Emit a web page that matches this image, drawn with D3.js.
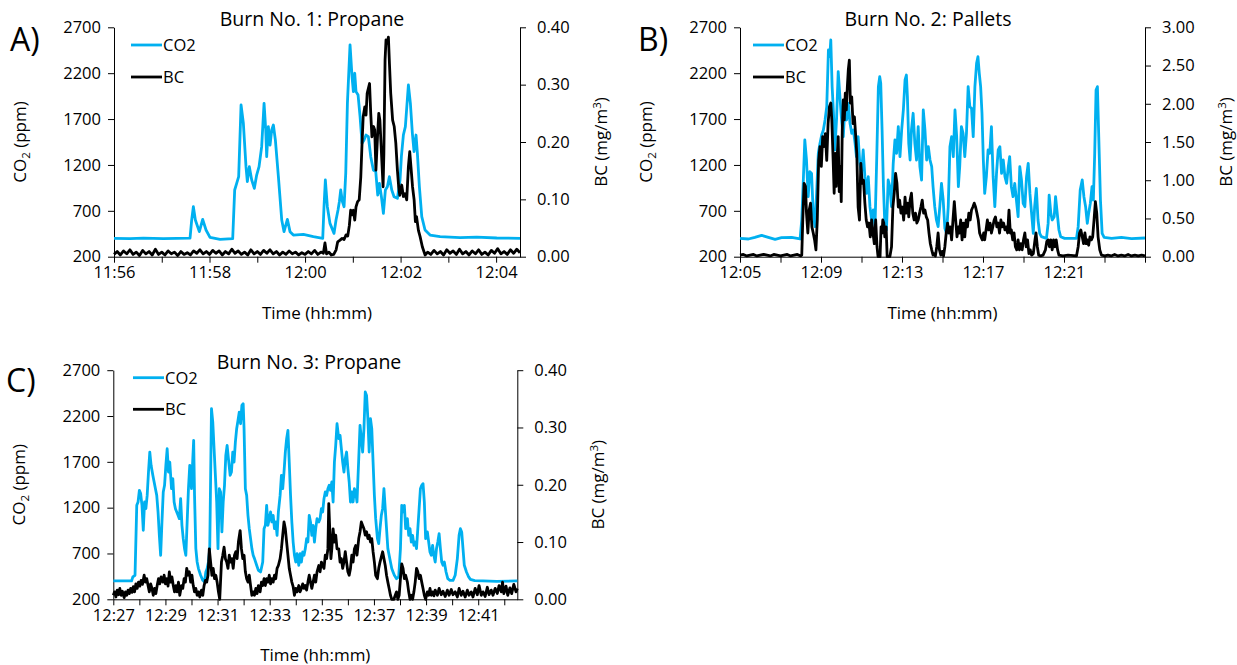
<!DOCTYPE html>
<html>
<head>
<meta charset="utf-8">
<script src="https://cdn.jsdelivr.net/npm/d3@7"></script>
<style>
  body { margin: 0; background: #fff; }
  svg text { font-family: 'Open Sans', sans-serif; fill: #000; }
</style>
</head>
<body>
<script>
// CO2 (ppm) and BC (mg/m3) readings, [seconds after panel start, value]
const co2A = [[0,400],[20.1,398],[36.9,402],[62,398],[78.7,400],[95.5,402],[97.6,600],[99.7,745],[102.2,600],[107.2,473],[111.4,607],[115.6,491],[120.6,411],[133.2,389],[149.1,396],[151.6,927],[154.1,1000],[156.6,1072],[159.6,1853],[162.5,1654],[165.8,1181],[167.5,1018],[170,1181],[173,1036],[176.3,945],[179.2,1090],[182.2,1181],[185.5,1399],[188.5,1872],[190.6,1581],[191.8,1290],[193.9,1617],[196,1417],[198.1,1581],[200.2,1635],[202.7,1472],[206.5,1072],[210.7,600],[213.6,473],[217.8,607],[221.1,473],[225.3,436],[237.9,443],[250.4,418],[262.2,400],[263.8,745],[265.5,1036],[268,745],[271.3,563],[276.4,454],[278.9,600],[281.4,709],[283.1,800],[284.8,927],[286.9,800],[289,745],[291.1,1108],[293.2,1872],[296.5,2508],[299,2162],[300.7,1999],[302.4,2199],[304,1999],[306.6,1962],[309.1,1726],[311.6,1436],[314.1,1472],[316.6,1526],[319.5,1508],[322.5,1290],[325.8,1145],[328.8,1127],[331.3,872],[333.4,1000],[335.9,854],[338.4,672],[340.9,927],[343.4,963],[345.9,1072],[348.9,927],[351.8,854],[356,836],[359.3,1036],[361,1290],[363.5,1526],[366,1617],[369.8,2071],[372.3,1872],[374.8,1545],[376.9,1345],[379.4,1526],[381.1,1327],[383.6,963],[386.6,636],[390.7,491],[397,436],[409.6,418],[434.7,407],[455.7,414],[480.8,404],[510,400]];
const bcA = [[0,0.004],[4,0.009],[8,0.003],[12,0.010],[16,0.005],[20,0.012],[24,0.004],[28,0.008],[32,0.002],[36,0.011],[40,0.005],[44,0.009],[48,0.003],[52,0.013],[56,0.004],[60,0.008],[64,0.003],[68,0.010],[72,0.005],[76,0.008],[80,0.002],[84,0.009],[88,0.004],[92,0.007],[96,0.003],[100,0.010],[104,0.006],[108,0.012],[112,0.005],[116,0.009],[120,0.004],[124,0.011],[128,0.006],[132,0.010],[136,0.003],[140,0.009],[144,0.005],[148,0.013],[152,0.006],[156,0.010],[160,0.004],[164,0.008],[168,0.003],[172,0.012],[176,0.005],[180,0.009],[184,0.004],[188,0.011],[192,0.006],[196,0.012],[200,0.005],[204,0.009],[208,0.003],[212,0.008],[216,0.004],[220,0.010],[224,0.005],[228,0.008],[232,0.003],[236,0.007],[240,0.004],[244,0.009],[248,0.005],[252,0.011],[256,0.004],[260,0.008],[263,0.006],[265,0.024],[267,0.005],[270,0.008],[273,0.003],[276,0.004],[279,0.012],[281,0.026],[284,0.029],[286.5,0.032],[289,0.030],[291.5,0.038],[293.6,0.036],[295.7,0.055],[297.3,0.081],[299,0.073],[300.7,0.081],[302.4,0.064],[304,0.087],[306,0.096],[308,0.099],[310,0.139],[311.6,0.198],[313,0.244],[315,0.261],[316.6,0.247],[318,0.285],[321,0.302],[322.5,0.250],[324,0.209],[326,0.227],[327.5,0.221],[329,0.151],[331,0.209],[332.6,0.250],[334,0.238],[336,0.180],[338,0.122],[339,0.180],[340.5,0.343],[341.7,0.378],[343.4,0.372],[344.7,0.383],[346,0.337],[347.6,0.285],[350,0.238],[352,0.227],[354,0.198],[356,0.151],[357.6,0.122],[359,0.107],[361.4,0.125],[363.5,0.105],[365.6,0.110],[367.7,0.099],[369.8,0.157],[371.5,0.183],[373,0.157],[375,0.122],[377,0.099],[378.6,0.061],[380,0.070],[382.4,0.046],[384.5,0.035],[387.4,0.017],[390.8,0.003],[394,0.008],[398,0.004],[402,0.011],[406,0.005],[410,0.009],[414,0.003],[418,0.012],[422,0.006],[426,0.010],[430,0.004],[434,0.013],[438,0.005],[442,0.009],[446,0.003],[450,0.010],[454,0.005],[458,0.012],[462,0.004],[466,0.008],[470,0.003],[474,0.011],[478,0.006],[482,0.014],[486,0.005],[490,0.009],[494,0.004],[498,0.012],[502,0.006],[506,0.013],[510,0.007]];

const co2B = [[0,400],[25,393],[44,411],[64,433],[84,411],[104,389],[123,407],[153,411],[178,393],[183,600],[188,1072],[192,1472],[197,1254],[202,854],[207,1127],[212,1108],[217,672],[222,527],[227,890],[232,1327],[237,1436],[242,1526],[247,1581],[252,1690],[257,1835],[262,2453],[266,2380],[269,2562],[273,2053],[277,1763],[281,1363],[286,1690],[291,2217],[296,1944],[301,1690],[306,1508],[311,1835],[316,1690],[321,1872],[326,1654],[331,1545],[336,1581],[341,1436],[345,1290],[350,1508],[355,1218],[360,1108],[365,1363],[370,1072],[375,890],[380,1072],[385,745],[390,600],[395,709],[400,527],[405,1254],[410,2053],[414,2162],[417,2090],[421,1581],[425,963],[429,563],[434,491],[439,1036],[444,963],[449,745],[454,1218],[459,1472],[464,1327],[469,1617],[474,1290],[479,1581],[484,1799],[489,2126],[493,2180],[496,1944],[500,1436],[504,1254],[508,1581],[513,1763],[518,1436],[523,1254],[528,1617],[533,1181],[538,1036],[543,1799],[548,1581],[553,1254],[558,1399],[563,1254],[568,1181],[572,963],[577,745],[582,600],[587,527],[592,745],[597,999],[602,818],[607,509],[612,454],[617,745],[622,1399],[627,1508],[632,1290],[637,1799],[642,1508],[647,963],[651,1181],[656,1617],[661,1545],[666,1290],[671,1545],[676,2053],[681,1835],[686,1817],[691,1508],[696,2053],[701,2308],[705,2380],[709,2199],[713,2053],[717,1763],[721,1254],[725,890],[730,1072],[735,1363],[740,1327],[745,1617],[750,1072],[755,745],[760,1108],[765,1363],[770,1399],[775,1108],[780,1254],[785,1072],[790,999],[795,1181],[799,1290],[804,963],[809,854],[814,999],[819,818],[824,636],[829,1181],[834,1036],[839,781],[844,745],[849,1072],[854,1218],[859,890],[864,672],[869,454],[873,745],[878,945],[883,600],[888,454],[893,418],[908,400],[913,563],[916,872],[921,672],[925,600],[931,636],[935,854],[940,672],[945,491],[950,418],[962,400],[997,400],[1002,527],[1008,927],[1014,1036],[1019,854],[1024,745],[1029,563],[1033,672],[1038,781],[1043,963],[1047,818],[1051,1327],[1055,2017],[1059,2053],[1063,1508],[1068,818],[1073,454],[1079,411],[1101,400],[1130,411],[1160,396],[1200,404]];
const bcB = [[0,0.02],[10,0.03],[20,0.01],[30,0.02],[40,0.03],[50,0.01],[60,0.02],[70,0.03],[80,0.02],[90,0.01],[100,0.03],[110,0.02],[120,0.01],[130,0.02],[140,0.03],[150,0.01],[160,0.02],[170,0.03],[180,0.01],[183,0.02],[186,0.48],[190,0.96],[194,0.92],[197,0.57],[201,0.31],[205,0.61],[209,0.70],[213,0.39],[217,0.31],[221,0.22],[225,0.09],[229,0.48],[233,1.26],[237,1.44],[241,1.18],[245,1.57],[249,1.44],[253,1.61],[257,1.26],[261,1.74],[265,1.96],[269,2.01],[272,1.79],[276,1.26],[279,0.83],[282,1.35],[285,0.92],[288,1.31],[291,1.57],[294,0.85],[297,1.18],[300,0.72],[303,1.66],[306,2.05],[309,1.79],[312,2.14],[315,1.92],[318,2.22],[321,2.45],[324,2.57],[327,2.01],[331,2.09],[335,1.74],[339,1.83],[343,1.57],[346,1.35],[350,0.65],[354,0.48],[358,1.22],[362,0.96],[366,1.00],[370,0.70],[374,0.48],[378,0.39],[382,0.44],[386,0.26],[390,0.48],[394,0.31],[398,0.17],[402,0.48],[406,0.13],[409,0],[415,0],[418,0.39],[421,0.31],[423,0.48],[426,0.44],[429,0.26],[433,0.39],[436,0],[444,0],[449,0.13],[453,0.65],[457,0.83],[461,1.09],[465,0.96],[469,0.65],[473,0.74],[477,0.57],[481,0.65],[485,0.48],[489,0.78],[493,0.57],[497,0.70],[500,0.52],[504,0.74],[508,0.83],[512,0.57],[516,0.48],[520,0.57],[524,0.44],[528,0.48],[532,0.57],[536,0.65],[540,0.74],[544,0.57],[548,0.61],[552,0.52],[556,0.48],[560,0.31],[564,0.17],[568,0.09],[572,0.02],[575,0.04],[579,0.01],[583,0.13],[587,0.31],[591,0.09],[595,0.02],[599,0.07],[603,0.01],[607,0.13],[611,0.31],[615,0.44],[619,0.31],[623,0.39],[627,0.22],[631,0.48],[635,0.72],[639,0.48],[643,0.26],[647,0.39],[650,0.31],[654,0.48],[658,0.22],[662,0.44],[666,0.26],[670,0.48],[674,0.39],[678,0.57],[682,0.48],[686,0.61],[690,0.65],[694,0.70],[698,0.65],[702,0.57],[706,0.48],[710,0.31],[714,0.26],[718,0.22],[722,0.31],[725,0.22],[729,0.35],[733,0.48],[737,0.35],[741,0.44],[745,0.31],[749,0.39],[753,0.48],[757,0.52],[761,0.39],[765,0.44],[769,0.31],[773,0.48],[777,0.39],[781,0.44],[785,0.35],[789,0.39],[793,0.31],[797,0.61],[801,0.31],[804,0.35],[808,0.22],[812,0.31],[816,0.13],[820,0.09],[824,0.22],[828,0.09],[832,0.17],[836,0.09],[840,0.22],[844,0.31],[848,0.13],[852,0.22],[856,0.04],[860,0.09],[864,0.02],[869,0.04],[874,0.22],[877,0.31],[881,0.13],[885,0.02],[891,0.01],[898,0.02],[905,0.09],[909,0.20],[913,0.22],[917,0.13],[921,0.22],[925,0.09],[929,0.22],[933,0.13],[937,0.22],[941,0.09],[945,0.02],[957,0.01],[972,0.02],[997,0.01],[1002,0.13],[1006,0.31],[1010,0.35],[1014,0.26],[1018,0.17],[1022,0.31],[1026,0.17],[1029,0.22],[1033,0.15],[1037,0.26],[1041,0.22],[1045,0.26],[1049,0.48],[1053,0.72],[1057,0.57],[1061,0.26],[1066,0.09],[1071,0.02],[1081,0.01],[1090,0.02],[1100,0.01],[1110,0.03],[1120,0.01],[1130,0.02],[1140,0.01],[1150,0.03],[1160,0.01],[1170,0.02],[1180,0.01],[1190,0.02],[1200,0.01]];

const co2C = [[0,400],[42,400],[45,444],[50,462],[54,1225],[57,1262],[60,1389],[63,1353],[66,1225],[69,953],[72,1262],[75,1189],[78,1334],[81,1589],[84,1807],[87,1662],[91,1553],[94,1480],[97,1407],[100,1334],[103,1153],[106,898],[109,680],[112,1044],[115,1371],[118,1444],[121,1662],[124,1843],[127,1589],[130,1698],[134,1407],[137,1516],[140,1262],[143,1189],[146,1153],[149,1116],[152,1080],[155,1298],[158,1007],[161,862],[164,753],[167,680],[170,1044],[173,1407],[176,1662],[180,1407],[183,1734],[185,1934],[187,1334],[190,753],[193,607],[196,535],[201,462],[206,407],[210,389],[213,498],[216,535],[219,607],[222,753],[226,2280],[229,2134],[232,1843],[235,1553],[238,1262],[241,753],[244,1407],[247,1371],[250,935],[253,1262],[256,1444],[259,1771],[262,1880],[265,1734],[269,1553],[272,1589],[275,1807],[278,1698],[281,1916],[284,2062],[287,2152],[290,2243],[293,2116],[296,2316],[299,2334],[301,2062],[304,1407],[307,1334],[310,1116],[313,971],[316,862],[319,753],[322,680],[325,644],[330,571],[334,516],[339,498],[344,607],[347,971],[350,1007],[353,1225],[356,1007],[359,1080],[362,1153],[365,1044],[368,1116],[371,971],[374,1044],[377,898],[380,1153],[384,1334],[387,1553],[390,1407],[393,1589],[396,1807],[399,1953],[402,2043],[405,1698],[408,1334],[411,1044],[414,825],[417,680],[420,607],[423,698],[427,571],[430,698],[433,607],[436,716],[439,680],[442,753],[445,862],[448,825],[451,1116],[454,1044],[457,898],[460,1007],[463,825],[466,971],[469,1080],[473,1044],[476,1080],[479,1189],[482,1153],[485,1298],[488,1371],[491,1334],[494,1407],[497,1444],[500,1389],[503,1480],[506,1262],[509,1698],[512,1880],[515,2116],[519,1953],[522,1989],[525,1843],[528,1698],[531,1589],[534,1734],[537,1807],[540,1625],[543,1480],[546,1262],[549,1371],[552,1262],[555,1407],[558,1371],[561,1262],[565,1734],[568,2098],[571,1953],[574,1807],[577,2062],[580,2462],[583,2425],[586,2171],[589,1807],[592,2171],[595,2062],[598,1698],[601,1334],[604,1080],[608,862],[611,807],[614,971],[617,1116],[620,1189],[623,1407],[626,1189],[629,971],[632,753],[635,680],[638,607],[641,535],[644,498],[647,462],[652,425],[657,444],[661,753],[664,1225],[667,1153],[670,1225],[673,971],[677,1080],[680,898],[683,971],[686,825],[689,898],[692,789],[695,825],[698,753],[701,971],[704,1189],[707,1407],[710,1444],[713,1462],[716,1262],[719,862],[723,935],[726,825],[729,716],[732,680],[735,789],[738,680],[741,607],[744,753],[747,825],[750,916],[753,753],[756,607],[759,571],[762,607],[766,498],[770,425],[775,407],[782,407],[787,462],[792,644],[796,898],[799,971],[802,935],[805,753],[808,571],[813,498],[818,444],[822,418],[832,404],[851,400],[882,396],[930,400]];
const bcC = [[0,0.007],[3,0.013],[6,0.004],[9,0.016],[12,0.008],[15,0.019],[18,0.007],[21,0.014],[25,0.003],[28,0.013],[31,0.007],[34,0.016],[37,0.010],[40,0.019],[43,0.012],[46,0.022],[49,0.013],[52,0.027],[55,0.019],[58,0.030],[61,0.023],[64,0.033],[67,0.026],[71,0.042],[74,0.030],[77,0.036],[80,0.024],[83,0.013],[86,0.027],[89,0.019],[92,0.007],[95,0.019],[98,0.010],[101,0.024],[104,0.036],[107,0.027],[110,0.039],[114,0.030],[117,0.042],[120,0.027],[123,0.036],[126,0.023],[129,0.048],[132,0.030],[135,0.039],[138,0.024],[141,0.013],[144,0.024],[147,0.013],[150,0.030],[153,0.007],[157,0.024],[160,0.019],[163,0.036],[166,0.030],[169,0.054],[172,0.042],[175,0.048],[178,0.030],[181,0.042],[184,0.024],[187,0.013],[190,0.019],[193,0.007],[196,0.013],[199,0.004],[203,0.016],[206,0.007],[209,0.024],[212,0.033],[215,0.030],[218,0.042],[221,0.088],[224,0.065],[227,0.042],[230,0.054],[233,0.036],[236,0.042],[239,0.030],[242,0.013],[245,0],[249,0.065],[252,0.077],[255,0.091],[258,0.071],[261,0.065],[264,0.054],[267,0.077],[270,0.065],[273,0.071],[276,0.054],[279,0.077],[282,0.083],[285,0.071],[288,0.100],[292,0.120],[295,0.088],[298,0.071],[301,0.077],[304,0.048],[307,0.036],[310,0.030],[313,0.042],[316,0.024],[319,0.007],[322,0.013],[325,0.007],[328,0.019],[331,0.010],[334,0.024],[338,0.013],[341,0.030],[344,0.024],[347,0.036],[350,0.024],[353,0.036],[356,0.030],[359,0.042],[362,0.027],[365,0.036],[368,0.030],[371,0.042],[374,0.036],[377,0.054],[380,0.059],[384,0.071],[387,0.088],[390,0.112],[393,0.135],[396,0.123],[399,0.100],[402,0.077],[405,0.054],[408,0.042],[411,0.030],[414,0.022],[417,0.007],[420,0.019],[423,0.013],[427,0.024],[430,0.013],[433,0.019],[436,0.027],[439,0.019],[442,0.024],[445,0.016],[448,0.030],[451,0.042],[454,0.030],[457,0.019],[460,0.030],[463,0.042],[466,0.030],[469,0.048],[473,0.059],[476,0.048],[479,0.065],[482,0.059],[485,0.054],[488,0.077],[491,0.071],[494,0.088],[496,0.167],[499,0.106],[501,0.071],[503,0.088],[506,0.123],[509,0.100],[512,0.112],[515,0.088],[519,0.088],[522,0.065],[525,0.071],[528,0.054],[531,0.065],[534,0.083],[537,0.065],[540,0.048],[543,0.042],[546,0.054],[549,0.077],[552,0.065],[555,0.088],[558,0.094],[561,0.077],[565,0.106],[568,0.118],[571,0.135],[574,0.129],[577,0.123],[580,0.112],[583,0.118],[586,0.106],[589,0.112],[592,0.100],[595,0.106],[598,0.083],[601,0.065],[604,0.042],[608,0.036],[611,0.054],[614,0.065],[617,0.074],[620,0.083],[623,0.071],[626,0.059],[629,0.042],[632,0.030],[635,0.019],[638,0.007],[641,0],[646,0],[649,0.007],[652,0.013],[655,0],[658,0.007],[661,0.036],[664,0.062],[667,0.054],[670,0.036],[673,0.042],[677,0.030],[680,0.013],[683,0],[686,0.007],[689,0],[692,0.013],[695,0.030],[698,0.054],[701,0.048],[704,0.036],[707,0.042],[710,0.030],[713,0.019],[716,0.007],[719,0],[723,0.013],[726,0.007],[729,0.019],[732,0.007],[735,0.013],[738,0.006],[741,0.016],[746,0.007],[750,0.019],[755,0.008],[759,0.014],[764,0.005],[769,0.016],[773,0.007],[778,0.017],[782,0.008],[787,0.013],[792,0.004],[796,0.019],[801,0.007],[805,0.014],[810,0.004],[815,0.016],[819,0.007],[824,0.013],[828,0.004],[833,0.019],[838,0.008],[842,0.024],[847,0.007],[851,0.013],[856,0.005],[861,0.021],[865,0.008],[870,0.016],[874,0.007],[879,0.019],[884,0.010],[888,0.024],[893,0.013],[896,0.030],[899,0.010],[904,0.023],[908,0.007],[913,0.020],[917,0.010],[922,0.026],[927,0.013],[930,0.019]];

// axis ticks and labels
const co2Ticks = [200, 700, 1200, 1700, 2200, 2700];
const bcTicksA = [0, 0.1, 0.2, 0.3, 0.4];
const bcTicksB = [0, 0.5, 1, 1.5, 2, 2.5, 3];
const bcTicksC = [0, 0.1, 0.2, 0.3, 0.4];
const timeLabelsA = ['11:56', '11:58', '12:00', '12:02', '12:04'];
const timeLabelsB = ['12:05', '12:09', '12:13', '12:17', '12:21'];
const timeLabelsC = ['12:27', '12:29', '12:31', '12:33', '12:35', '12:37', '12:39', '12:41'];
const titles = ['Burn No. 1: Propane', 'Burn No. 2: Pallets', 'Burn No. 3: Propane'];
const letters = ['A)', 'B)', 'C)'];
const seriesNames = ['CO2', 'BC'];

const blue = '#00b0f0';
const parseT = d3.timeParse('%H:%M:%S');
const fmtT = d3.timeFormat('%-H:%M');

const panels = [
    { co2: co2A, bc: bcA, bcTicks: bcTicksA, labels: timeLabelsA, start: '11:56:00', end: '12:04:30', step: 1,
      left: 114, top: 27.3, width: 406, height: 229.4, title: titles[0], titleX: 312, titleY: 26,
      letter: letters[0], letterX: 10, letterY: 51, legX: 131, legY: 45, legGap: 32 },
    { co2: co2B, bc: bcB, bcTicks: bcTicksB, labels: timeLabelsB, start: '12:05:00', end: '12:25:00', step: 2,
      left: 740, top: 27.3, width: 405, height: 229.4, title: titles[1], titleX: 928, titleY: 26,
      letter: letters[1], letterX: 638, letterY: 51, legX: 753, legY: 45, legGap: 32 },
    { co2: co2C, bc: bcC, bcTicks: bcTicksC, labels: timeLabelsC, start: '12:27:00', end: '12:42:30', step: 1,
      left: 113.3, top: 370.2, width: 404, height: 229.1, title: titles[2], titleX: 309, titleY: 369,
      letter: letters[2], letterX: 6, letterY: 392, legX: 133, legY: 377.7, legGap: 31.6 }
];

const svg = d3.select('body').append('svg').attr('width', 1237).attr('height', 665);

function drawPanel(p) {
    const t0 = parseT(p.start), t1 = parseT(p.end);
    const at = s => new Date(t0.getTime() + s * 1000);

    const x = d3.scaleTime().domain([t0, t1]).range([0, p.width]);
    const yL = d3.scaleLinear().domain([200, 2700]).range([p.height, 0]);
    const yR = d3.scaleLinear().domain([0, d3.max(p.bcTicks)]).range([p.height, 0]);

    const g = svg.append('g').attr('transform', `translate(${p.left}, ${p.top})`);

    // left axis
    g.append('g')
        .call(d3.axisLeft(yL).tickValues(co2Ticks).tickSize(6).tickSizeOuter(0).tickPadding(7).tickFormat(d3.format('d')))
        .call(a => a.selectAll('text').style('font-size', '16.5px'));

    // right axis
    g.append('g')
        .attr('transform', `translate(${p.width}, 0)`)
        .call(d3.axisRight(yR).tickValues(p.bcTicks).tickSize(6).tickSizeOuter(0).tickPadding(11).tickFormat(d3.format('.2f')))
        .call(a => a.selectAll('text').style('font-size', '16.5px'));

    // time axis
    const ticks = d3.timeMinute.range(t0, new Date(t1.getTime() + 1), p.step);
    g.append('g')
        .attr('transform', `translate(0, ${p.height})`)
        .call(d3.axisBottom(x).tickValues(ticks).tickSize(6).tickSizeOuter(0).tickPadding(4)
            .tickFormat(d => p.labels.includes(fmtT(d)) ? fmtT(d) : ''))
        .call(a => a.selectAll('text').style('font-size', '16.5px'));

    g.selectAll('.domain, .tick line').attr('stroke', '#000');

    // lines
    const lineL = d3.line().x(d => x(at(d[0]))).y(d => yL(d[1]));
    const lineR = d3.line().x(d => x(at(d[0]))).y(d => yR(d[1]));
    g.append('path').datum(p.co2)
        .attr('fill', 'none').attr('stroke', blue).attr('stroke-width', 2.8)
        .attr('stroke-linejoin', 'round').attr('d', lineL);
    g.append('path').datum(p.bc)
        .attr('fill', 'none').attr('stroke', '#000').attr('stroke-width', 2.8)
        .attr('stroke-linejoin', 'round').attr('d', lineR);

    // axis titles
    const cy = p.top + p.height / 2;
    const yt = svg.append('text')
        .attr('transform', `translate(${p.left - 88}, ${cy}) rotate(-90)`)
        .attr('text-anchor', 'middle').style('font-size', '17px');
    yt.append('tspan').text('CO');
    yt.append('tspan').attr('dy', 4).style('font-size', '11.5px').text('2');
    yt.append('tspan').attr('dy', -4).text(' (ppm)');

    const rt = svg.append('text')
        .attr('transform', `translate(${p.left + p.width + 87}, ${cy}) rotate(-90)`)
        .attr('text-anchor', 'middle').style('font-size', '17px');
    rt.append('tspan').text('BC (mg/m');
    rt.append('tspan').attr('dy', -6).style('font-size', '11.5px').text('3');
    rt.append('tspan').attr('dy', 6).text(')');

    svg.append('text')
        .attr('x', p.left + p.width / 2).attr('y', p.top + p.height + 62)
        .attr('text-anchor', 'middle').style('font-size', '17px')
        .text('Time (hh:mm)');

    // title and panel letter
    svg.append('text')
        .attr('x', p.titleX).attr('y', p.titleY)
        .attr('text-anchor', 'middle').style('font-size', '19.5px')
        .text(p.title);
    svg.append('text')
        .attr('x', p.letterX).attr('y', p.letterY)
        .style('font-size', '32px')
        .text(p.letter);

    // legend
    const leg = svg.append('g');
    seriesNames.forEach((name, i) => {
        const ly = p.legY + i * p.legGap;
        leg.append('line')
            .attr('x1', p.legX).attr('x2', p.legX + 31).attr('y1', ly).attr('y2', ly)
            .attr('stroke', i === 0 ? blue : '#000').attr('stroke-width', 2.8);
        leg.append('text')
            .attr('x', p.legX + 32).attr('y', ly).attr('dy', '0.36em')
            .style('font-size', '16.5px')
            .text(name);
    });
}

panels.forEach(drawPanel);
</script>
</body>
</html>
